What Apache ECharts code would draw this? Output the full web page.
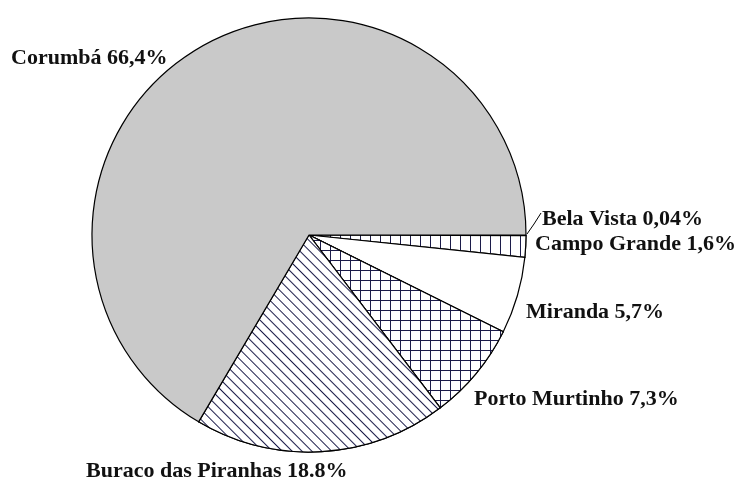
<!DOCTYPE html>
<html>
<head>
<meta charset="utf-8">
<script src="https://cdn.jsdelivr.net/npm/echarts@6/dist/echarts.min.js"></script>
<style>
  html, body { margin: 0; padding: 0; background: #fff; }
  #chart { width: 737px; height: 477px; }
</style>
</head>
<body>
<div id="chart"></div>
<script>
  // dados do gráfico (ordem horária a partir das 3 horas)
  var names = ['Bela Vista', 'Campo Grande', 'Miranda', 'Porto Murtinho', 'Buraco das Piranhas', 'Corumbá'];
  var values = [0.04, 1.6, 5.7, 7.3, 18.8, 66.4];
  var decSep = [',', ',', ',', ',', '.', ','];

  // posição dos rótulos (esquerda, meio)
  var labelPos = [[542, 219], [535, 244], [526, 312], [474, 399], [86, 471], [11, 58]];

  var ink = '#1c1c4a';

  var vLines = {
    symbol: 'rect', symbolSize: 1,
    dashArrayX: [1, 9], dashArrayY: [4, 0],
    color: ink, backgroundColor: '#fff'
  };
  var grid = {
    symbol: 'rect', symbolSize: 1,
    dashArrayX: [[1, 0], [1, 9]], dashArrayY: [1, 0, 9, 0],
    color: ink, backgroundColor: '#fff'
  };
  var diag = {
    symbol: 'rect', symbolSize: 1,
    dashArrayX: [4, 0], dashArrayY: [1, 6],
    rotation: Math.PI / 4,
    color: ink, backgroundColor: '#fff'
  };

  var styles = [
    {color: '#3a3ad0', borderColor: '#3a3ad0'},
    {color: '#fff', decal: vLines},
    {color: '#fff'},
    {color: '#fff', decal: grid},
    {color: '#fff', decal: diag},
    {color: '#c9c9c9'}
  ];

  var data = names.map(function (n, i) {
    var d = {name: n, value: values[i], itemStyle: styles[i]};
    if (i === 0) {
      d.labelLine = {show: true, lineStyle: {color: '#000', width: 1}};
    }
    return d;
  });

  var chart = echarts.init(document.getElementById('chart'));
  var option = {
    animation: false,
    series: [
      {
        type: 'pie',
        radius: 217,
        center: [309, 235],
        startAngle: 0,
        clockwise: true,
        avoidLabelOverlap: false,
        minAngle: 0,
        itemStyle: {borderColor: '#000', borderWidth: 1.2},
        label: {
          show: true,
          position: 'outside',
          color: '#111',
          fontFamily: 'Liberation Serif',
          fontWeight: 'bold',
          fontSize: 22,
          formatter: function (p) {
            var v = String(values[p.dataIndex]).replace('.', decSep[p.dataIndex]);
            return p.name + ' ' + v + '%';
          }
        },
        labelLine: {show: false},
        labelLayout: function (p) {
          var pos = labelPos[p.dataIndex];
          var out = {x: pos[0], y: pos[1], align: 'left', verticalAlign: 'middle'};
          if (p.dataIndex === 0) {
            out.labelLinePoints = [[527, 234], [534, 224], [541, 213]];
          }
          return out;
        },
        data: data
      }
    ]
  };
  chart.setOption(option);
</script>
</body>
</html>
